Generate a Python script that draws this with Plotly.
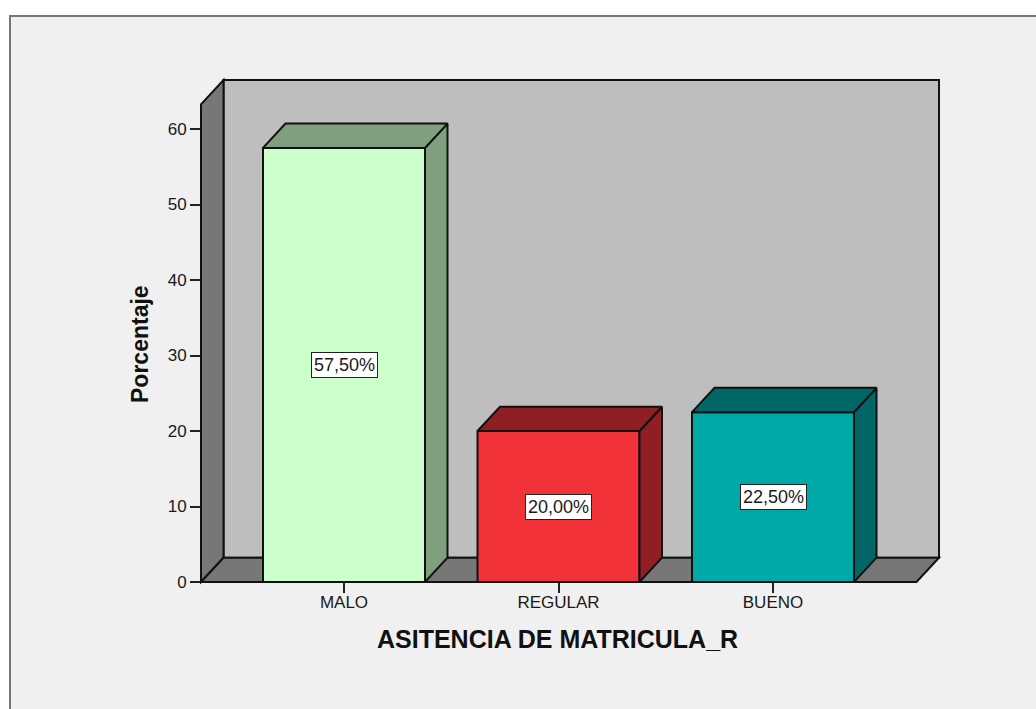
import plotly.graph_objects as go

categories = ["MALO", "REGULAR", "BUENO"]
percentages = [57.5, 20.0, 22.5]
bar_labels = ["57,50%", "20,00%", "22,50%"]
front_colors = ["#ccffcc", "#f23239", "#00a8a8"]
side_colors = ["#7f9f7f", "#8f1f23", "#006666"]
y_ticks = [0, 10, 20, 30, 40, 50, 60]

# plot-area pixels
L, R, T, B = 201, 939, 80, 582
W, H = 1036, 709
PX_X = 214.5          # pixels per category
PX_Y = 7.55           # pixels per percent
X0 = 344              # pixel of first category
DX_PX, DY_PX = 22.5, 24.3
x_range = [(L - X0) / PX_X, (R - X0) / PX_X]
y_range = [0, (B - T) / PX_Y]
dx = DX_PX / PX_X
dy = DY_PX / PX_Y
half = 81 / PX_X
FONT = "Liberation Sans, Arial, sans-serif"
INK = "#1a1a1a"


def px(x):
    return (x - L) / (R - L)


def py(y):
    return (B - y) / (B - T)


def poly(points, fill, line="#111111", width=2, layer="below"):
    path = "M " + " L ".join(f"{px(a):.5f},{py(b):.5f}" for a, b in points) + " Z"
    return dict(type="path", xref="paper", yref="paper", path=path, fillcolor=fill,
                line=dict(color=line, width=width), layer=layer)


xb = L + DX_PX
xr = R - DX_PX
yf = B - DY_PX
shapes = [
    dict(type="rect", xref="paper", yref="paper", x0=px(10), x1=px(1040), y0=py(16), y1=py(715),
         fillcolor="#f0f0f0", line=dict(color="#777777", width=2), layer="below"),
    poly([(xb, T), (R, T), (R, yf), (xb, yf)], "#bebebe"),
    poly([(L, B), (xb, yf), (xb, T), (L, T + DY_PX)], "#777777"),
    poly([(L, B), (xb, yf), (R, yf), (xr, B)], "#777777"),
    dict(type="line", xref="paper", yref="paper", x0=px(L), x1=px(xr), y0=0, y1=0,
         line=dict(color="#111111", width=2), layer="above"),
]

fig = go.Figure()
fig.add_trace(go.Bar(
    x=list(range(len(categories))), y=percentages, width=2 * half,
    marker=dict(color=front_colors, line=dict(color="#111111", width=2)),
    showlegend=False, hoverinfo="skip",
))
for i, v in enumerate(percentages):
    fig.add_trace(go.Scatter(
        x=[i + half, i + half + dx, i + half + dx, i + half, i + half],
        y=[0, dy, v + dy, v, 0], mode="lines", fill="toself", fillcolor=side_colors[i],
        line=dict(color="#111111", width=2), showlegend=False, hoverinfo="skip", cliponaxis=False,
    ))
    fig.add_trace(go.Scatter(
        x=[i - half, i - half + dx, i + half + dx, i + half, i - half],
        y=[v, v + dy, v + dy, v, v], mode="lines", fill="toself", fillcolor=side_colors[i],
        line=dict(color="#111111", width=2), showlegend=False, hoverinfo="skip", cliponaxis=False,
    ))

annotations = [
    dict(x=i, y=v / 2, xref="x", yref="y", text=bar_labels[i], showarrow=False,
         bgcolor="#ffffff", bordercolor="#222222", borderwidth=1, borderpad=2,
         font=dict(family=FONT, size=18, color=INK))
    for i, v in enumerate(percentages)
]
annotations += [
    dict(x=px(557.5), y=py(639), xref="paper", yref="paper", xanchor="center", yanchor="middle",
         text="<b>ASITENCIA DE MATRICULA_R</b>",
         showarrow=False, font=dict(family=FONT, size=25, color="#111111")),
    dict(x=px(140), y=py(344), xref="paper", yref="paper", xanchor="center", yanchor="middle",
         text="<b>Porcentaje</b>", textangle=-90,
         showarrow=False, font=dict(family=FONT, size=23, color="#111111")),
]

fig.update_layout(
    width=W, height=H, autosize=False,
    margin=dict(l=L, r=W - R, t=T, b=H - B, pad=0, autoexpand=False),
    paper_bgcolor="#ffffff", plot_bgcolor="rgba(0,0,0,0)",
    shapes=shapes, annotations=annotations, showlegend=False,
    xaxis=dict(range=x_range, tickmode="array", tickvals=list(range(len(categories))),
               ticktext=categories, ticks="outside", ticklen=10, tickwidth=2, tickcolor="#222222",
               showgrid=False, zeroline=False, showline=False, ticklabelstandoff=-5,
               tickfont=dict(family=FONT, size=17, color=INK)),
    yaxis=dict(range=y_range, tickmode="array", tickvals=y_ticks, ticks="outside", ticklen=10,
               tickwidth=2, tickcolor="#222222", showgrid=False, zeroline=False, showline=False,
               tickfont=dict(family=FONT, size=17, color=INK)),
)

fig.write_html("out.html", config=dict(displayModeBar=False),
               post_script="document.body.style.margin='0';document.body.style.overflow='hidden';")
